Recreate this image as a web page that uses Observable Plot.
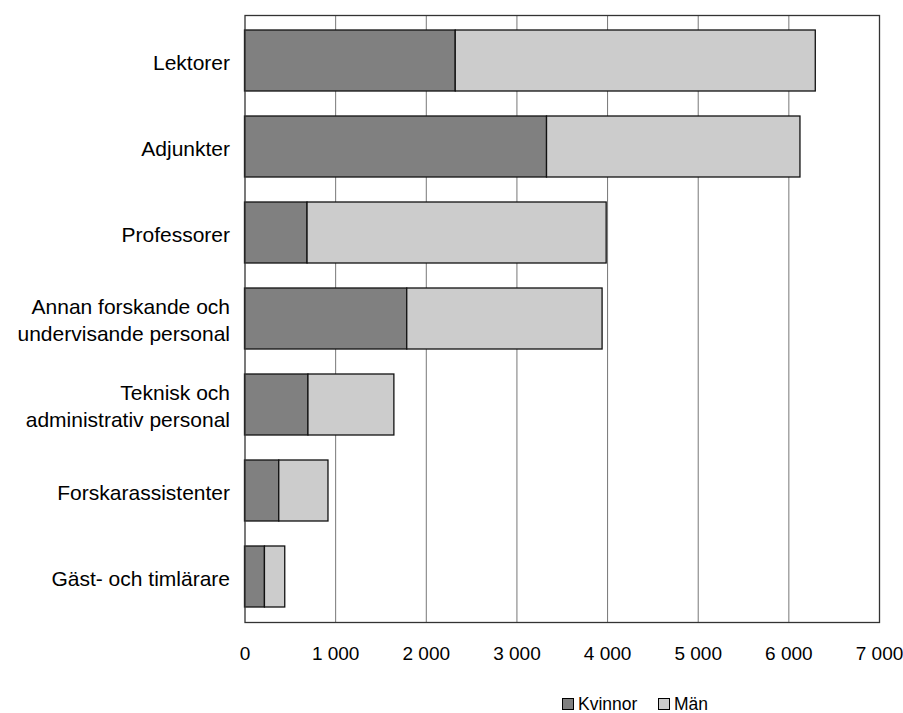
<!DOCTYPE html>
<html>
<head>
<meta charset="utf-8">
<script src="https://cdn.jsdelivr.net/npm/d3@7"></script>
<script src="https://cdn.jsdelivr.net/npm/@observablehq/plot@0.6"></script>
<style>
  html, body { margin: 0; padding: 0; background: #fff; }
  body { width: 903px; height: 713px; overflow: hidden; font-family: "Liberation Sans", Arial, sans-serif; }
  #legend { position: relative; height: 25px; font-size: 17.5px; color: #000; }
  .item { position: absolute; top: 8px; display: flex; align-items: center; gap: 4px; line-height: 16px; }
  .sw { width: 12px; height: 12px; border: 1px solid #000; box-sizing: border-box; display: inline-block; }
</style>
</head>
<body>
<div id="chart"></div>
<div id="legend"></div>
<script>
const categories = [
  "Lektorer",
  "Adjunkter",
  "Professorer",
  "Annan forskande och undervisande personal",
  "Teknisk och administrativ personal",
  "Forskarassistenter",
  "Gäst- och timlärare"
];
const categoryLabels = [
  "Lektorer",
  "Adjunkter",
  "Professorer",
  "Annan forskande och\nundervisande personal",
  "Teknisk och\nadministrativ personal",
  "Forskarassistenter",
  "Gäst- och timlärare"
];
const kvinnor = [2325, 3332, 690, 1790, 700, 378, 220];
const man = [3972, 2796, 3300, 2155, 948, 543, 224];
const series = ["Kvinnor", "Män"];
const seriesColors = ["#808080", "#cccccc"];
const xTicks = [0, 1000, 2000, 3000, 4000, 5000, 6000, 7000];

const data = [];
categories.forEach((c, i) => {
  data.push({category: c, gender: series[0], value: kvinnor[i]});
  data.push({category: c, gender: series[1], value: man[i]});
});
const labelOf = new Map(categories.map((c, i) => [c, categoryLabels[i]]));
const fmt = v => d3.format(",")(v).replace(/,/g, " ");

const chart = Plot.plot({
  width: 903,
  height: 688,
  marginLeft: 244.5,
  marginRight: 24,
  marginTop: 15,
  marginBottom: 66,
  style: {fontFamily: "'Liberation Sans', Arial, sans-serif", fontSize: "19px", color: "#000", background: "#fff"},
  x: {domain: [0, 7000], ticks: xTicks},
  y: {domain: categories, paddingInner: 0.285, paddingOuter: 0.15},
  color: {domain: series, range: seriesColors},
  marks: [
    Plot.gridX(xTicks.slice(1, -1), {stroke: "#777", strokeOpacity: 1, strokeWidth: 1}),
    Plot.barX(data, Plot.stackX({x: "value", y: "category", fill: "gender", stroke: "#111", strokeWidth: 1.3, order: series})),
    Plot.frame({stroke: "#333", strokeWidth: 1.3}),
    Plot.axisX({ticks: xTicks, tickSize: 0, tickPadding: 24, tickFormat: fmt, label: null, fontSize: 19}),
    Plot.axisY({tickSize: 0, tickPadding: 15, tickFormat: d => labelOf.get(d), label: null, lineHeight: 1.3, fontSize: 21})
  ]
});
document.getElementById("chart").appendChild(chart);

const legend = document.getElementById("legend");
const positions = [562, 658];
series.forEach((s, i) => {
  const it = document.createElement("div");
  it.className = "item";
  it.style.left = positions[i] + "px";
  const sw = document.createElement("span");
  sw.className = "sw";
  sw.style.background = seriesColors[i];
  const t = document.createElement("span");
  t.textContent = s;
  it.appendChild(sw);
  it.appendChild(t);
  legend.appendChild(it);
});
</script>
</body>
</html>
